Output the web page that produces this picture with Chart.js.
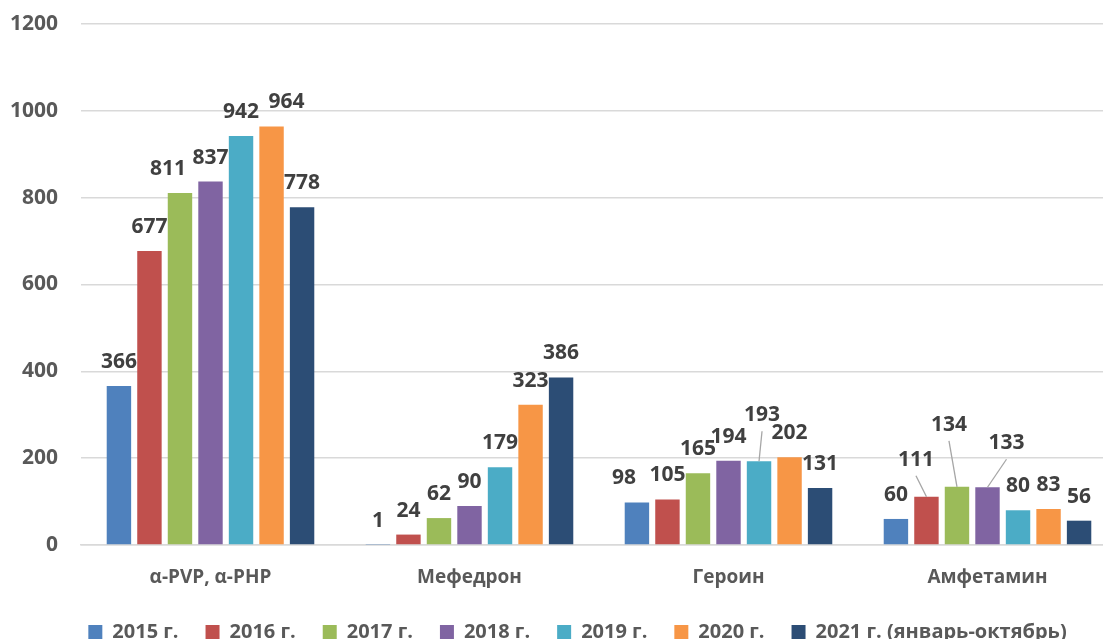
<!DOCTYPE html>
<html><head><meta charset="utf-8">
<script src="https://cdn.jsdelivr.net/npm/chart.js@4.4.1/dist/chart.umd.min.js"></script>
<style>
html,body{margin:0;padding:0;background:#fff;overflow:hidden;width:1103px;height:639px}
#wrap{position:absolute;left:0;top:0;width:1150px;height:680px}
</style>
</head><body>
<div id="wrap"><canvas id="c" width="1150" height="680"></canvas></div>
<script>
const categories = ['α-PVP, α-PHP', 'Мефедрон', 'Героин', 'Амфетамин'];
const seriesNames = ['2015 г.', '2016 г.', '2017 г.', '2018 г.', '2019 г.', '2020 г.', '2021 г. (январь-октябрь)'];
const v2015 = [366, 1, 98, 60];
const v2016 = [677, 24, 105, 111];
const v2017 = [811, 62, 165, 134];
const v2018 = [837, 90, 194, 133];
const v2019 = [942, 179, 193, 80];
const v2020 = [964, 323, 202, 83];
const v2021 = [778, 386, 131, 56];
const yTicks = [0, 200, 400, 600, 800, 1000, 1200];

const seriesValues = [v2015, v2016, v2017, v2018, v2019, v2020, v2021];
const colors = ['#4f81bd', '#c0504d', '#9bbb59', '#8064a2', '#4bacc6', '#f79646', '#2c4d75'];

const FONT = "'Open Sans', 'DejaVu Sans', sans-serif";

const barLabels = {
  id: 'barLabels',
  afterDatasetsDraw(chart, args, opts) {
    const ctx = chart.ctx;
    ctx.save();
    ctx.font = opts.font;
    ctx.fillStyle = opts.color;
    ctx.textAlign = 'center';
    ctx.textBaseline = 'alphabetic';
    chart.data.datasets.forEach((ds, di) => {
      const meta = chart.getDatasetMeta(di);
      meta.data.forEach((bar, i) => {
        const t = opts.tweaks[di + '-' + i] || {};
        const x = bar.x + (t.dx || 0);
        const y = bar.y - opts.gap + (t.dy || 0);
        if (t.leader) {
          ctx.beginPath();
          ctx.strokeStyle = opts.leaderColor;
          ctx.lineWidth = 1.3;
          ctx.moveTo(x, y + 10);
          ctx.lineTo(bar.x, bar.y);
          ctx.stroke();
        }
        ctx.fillText(String(ds.data[i]), x, y);
      });
    });
    ctx.restore();
  }
};

const legendShift = {
  id: 'legendShift',
  afterLayout(chart, args, opts) {
    if (chart.legend) {
      chart.legend.left += opts.dx;
      chart.legend.right += opts.dx;
    }
  }
};

new Chart(document.getElementById('c'), {
  type: 'bar',
  data: {
    labels: categories,
    datasets: seriesNames.map((name, k) => ({
      label: name,
      data: seriesValues[k],
      backgroundColor: colors[k],
      borderColor: '#ffffff',
      borderWidth: 0,
      barPercentage: 0.8,
      categoryPercentage: 0.825
    }))
  },
  options: {
    responsive: false,
    animation: false,
    devicePixelRatio: 1,
    layout: { padding: { top: 24, right: 33, left: 0, bottom: 28 } },
    scales: {
      x: {
        grid: { display: false, drawTicks: false },
        border: { display: true, color: '#d9d9d9', width: 1.5 },
        ticks: { color: '#595959', font: { family: FONT, size: 19, weight: 'bold' }, padding: 21, maxRotation: 0 },
        afterFit: s => { s.height = 50; }
      },
      y: {
        min: yTicks[0],
        max: yTicks[yTicks.length - 1],
        afterBuildTicks: s => { s.ticks = yTicks.map(v => ({ value: v })); },
        grid: { color: '#d9d9d9', lineWidth: 1.5, drawTicks: true, tickLength: 23, tickColor: 'rgba(0,0,0,0)' },
        border: { display: false },
        ticks: { color: '#595959', font: { family: FONT, size: 21, weight: 'bold' }, padding: 0, callback: v => String(v) },
        afterFit: s => { s.width = 81; }
      }
    },
    plugins: {
      legend: {
        position: 'bottom',
        labels: {
          boxWidth: 14, boxHeight: 14, padding: 27,
          color: '#595959',
          font: { family: FONT, size: 20, weight: 'bold' }
        }
      },
      legendShift: { dx: 19 },
      tooltip: { enabled: false },
      barLabels: {
        font: "bold 21px " + FONT,
        color: '#404040',
        gap: 18,
        leaderColor: '#a6a6a6',
        tweaks: {
          '2-0': { dx: -12 },
          '5-0': { dx: 15 },
          '0-2': { dx: -13 },
          '4-2': { dx: 3, dy: -22, leader: true },
          '1-3': { dx: -10.5, dy: -13, leader: true },
          '2-3': { dx: -8, dy: -38, leader: true },
          '3-3': { dx: 19, dy: -20, leader: true }
        }
      }
    }
  },
  plugins: [barLabels, legendShift]
});
</script>
</body></html>
